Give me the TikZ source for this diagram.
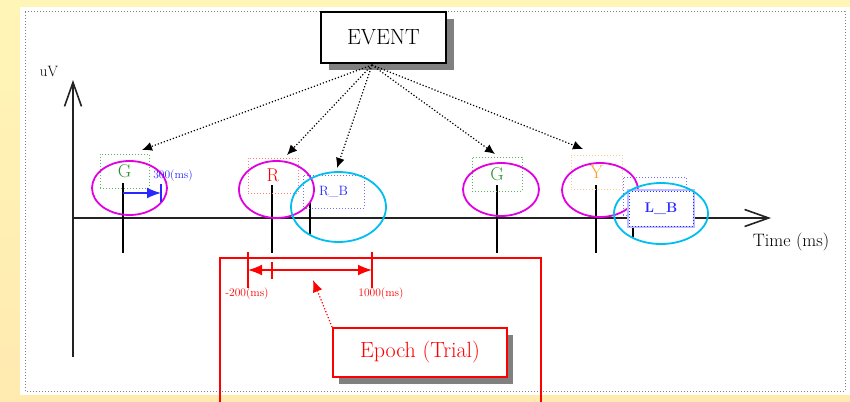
\documentclass[tikz,border=0pt]{standalone}
\usetikzlibrary{arrows.meta,shapes.geometric}
\newcommand\setfs[1]{\fontsize{#1}{#1}\selectfont}
\definecolor{bgtop}{RGB}{255,245,182}
\definecolor{bgbot}{RGB}{255,234,176}
\definecolor{evgreen}{RGB}{40,145,40}
\definecolor{boxgreen}{RGB}{90,180,90}
\definecolor{evred}{RGB}{255,0,0}
\definecolor{boxred}{RGB}{255,120,120}
\definecolor{evblue}{RGB}{40,40,255}
\definecolor{boxblue}{RGB}{110,110,255}
\definecolor{evorange}{RGB}{255,160,30}
\definecolor{boxorange}{RGB}{255,200,140}
\definecolor{ringmag}{RGB}{225,0,225}
\definecolor{ringcyan}{RGB}{0,190,240}
\definecolor{axisgray}{RGB}{35,35,35}
\definecolor{shadowgray}{RGB}{128,128,128}
\begin{document}
\begin{tikzpicture}[x=1pt,y=-1pt,
  axisline/.style={draw=axisgray,line width=2pt,-{Straight Barb[length=24pt,width=17pt,line width=1.6pt]}},
  markline/.style={draw=black,line width=1.6pt},
  tagbox/.style={draw=#1,line width=1pt,dash pattern=on 1pt off 2pt,inner sep=0pt,rectangle},
  ringm/.style={ellipse,draw=ringmag,line width=1.8pt,inner sep=0pt},
  ringc/.style={ellipse,draw=ringcyan,line width=1.8pt,inner sep=0pt},
  pointer/.style={draw=black,line width=1.2pt,dash pattern=on 1.2pt off 2pt,-{Latex[length=10pt,width=9pt]}},
  shadowbox/.style={fill=shadowgray,inner sep=0pt},
  redline/.style={draw=evred,line width=1.6pt},
  msfont/.style={font=\setfs{11.5}},
]
\useasboundingbox (0,0) rectangle (850,401);

% page background and white panel with its dotted frame
\shade[top color=bgtop,bottom color=bgbot] (0,0) rectangle (850,401);
\fill[white] (20,7) rectangle (850,395);
\draw[shadowgray,line width=1pt,dash pattern=on 1pt off 2pt] (25,12) rectangle (845,391);

% epoch frame (runs off the bottom edge)
\draw[redline] (220,405) -- (220,258) -- (541,258) -- (541,405);

% axes
\coordinate (yb) at (73,357);
\coordinate (yt) at (73,80);
\coordinate (o) at (73,218);
\coordinate (xe) at (771,218);
\draw[axisline] (yb) -- (yt);
\draw[axisline] (o) -- (xe);
\node[font=\setfs{15}] (uv) at (49,71) {uV};
\node[font=\setfs{18}] (tm) at (791,242) {Time (ms)};

% event markers
\draw[markline] (123,183) -- (123,253);
\draw[markline] (272,185) -- (272,253);
\draw[markline] (310,202) -- (310,235);
\draw[markline] (497,185) -- (497,253);
\draw[markline] (596,185) -- (596,253);
\draw[markline] (633,224) -- (633,237);

% event tags
\node[tagbox=boxgreen,minimum width=49pt,minimum height=34pt,text=evgreen,font=\setfs{18.5}] (g1) at (124.5,171) {G};
\node[tagbox=boxred,minimum width=50pt,minimum height=35pt,text=evred,font=\setfs{18.5}] (r) at (273,175.5) {R};
\node[tagbox=boxblue,minimum width=61pt,minimum height=33pt,text=evblue,font=\setfs{13.5}] (rb) at (333.5,191.5) {R\_B};
\node[tagbox=boxgreen,minimum width=50pt,minimum height=34pt,text=evgreen,font=\setfs{18.5}] (g2) at (497,174) {G};
\node[tagbox=boxorange,minimum width=51pt,minimum height=34pt,text=evorange,font=\setfs{18.5}] (y) at (596.5,172) {Y};
\node[tagbox=boxblue,minimum width=63pt,minimum height=38pt] (lbback) at (654.5,196) {};

% stimulus rings
\node[ringm,minimum width=75pt,minimum height=54pt] (mg1) at (129.5,188) {};
\node[ringm,minimum width=75pt,minimum height=57pt] (mr) at (276.5,189.5) {};
\node[ringm,minimum width=76pt,minimum height=53pt] (mg2) at (501,189.5) {};
\node[ringm,minimum width=76pt,minimum height=54pt] (my) at (600,190) {};

% response tag L_B sits above the axis
\node[draw=boxblue!45,line width=1.6pt,fill=white,minimum width=66pt,minimum height=37pt,inner sep=0pt] (lbs) at (661,208.5) {};
\node[tagbox=evblue,minimum width=64pt,minimum height=35pt,text=evblue,font=\bfseries\setfs{14}] (lb) at (661,208.5) {L\_B};

% response rings
\node[ringc,minimum width=95pt,minimum height=70pt] (crb) at (338.5,207) {};
\node[ringc,minimum width=94pt,minimum height=61pt] (clb) at (661,213.5) {};

% 300 ms delay marker
\coordinate (d0) at (123,193);
\coordinate (d1) at (161,193);
\coordinate (d1t) at (161,184);
\coordinate (d1b) at (161,202);
\draw[evblue,line width=1.6pt,-{Latex[length=14pt,width=11pt]}] (d0) -- (d1);
\draw[evblue,line width=1.6pt] (d1t) -- (d1b);
\node[text=evblue,msfont,inner sep=0pt] (d300) at (173,176) {300(ms)};

% EVENT box and its pointers
\node[shadowbox,minimum width=125pt,minimum height=51pt] (evsh) at (391.5,44.5) {};
\node[draw=black,line width=1.8pt,fill=white,minimum width=125pt,minimum height=51pt,inner sep=0pt,font=\setfs{22}] (ev) at (383.5,37.5) {EVENT};
\coordinate (hub) at (372,65);
\coordinate (pg1) at (142,150);
\coordinate (pr) at (287,155);
\coordinate (prb) at (337,168);
\coordinate (pg2) at (495,154);
\coordinate (py) at (583,149);
\draw[pointer] (hub) -- (pg1);
\draw[pointer] (hub) -- (pr);
\draw[pointer] (hub) -- (prb);
\draw[pointer] (hub) -- (pg2);
\draw[pointer] (hub) -- (py);

% epoch window -200 .. 1000 ms
\coordinate (ea) at (248,252);
\coordinate (eab) at (248,288);
\coordinate (eb) at (372,252);
\coordinate (ebb) at (372,288);
\coordinate (ez) at (272,262);
\coordinate (ezb) at (272,279);
\coordinate (l0) at (248,270);
\coordinate (l1) at (372,270);
\draw[redline] (ea) -- (eab);
\draw[redline] (eb) -- (ebb);
\draw[redline] (ez) -- (ezb);
\draw[redline,{Latex[length=14pt,width=11pt]}-{Latex[length=14pt,width=11pt]}] (l0) -- (l1);
\node[text=evred,msfont] (m200) at (247,294) {-200(ms)};
\node[text=evred,msfont] (m1000) at (381,294) {1000(ms)};

% Epoch (Trial) label
\node[shadowbox,minimum width=174pt,minimum height=49pt] (epsh) at (426,359.5) {};
\node[draw=evred,line width=1.8pt,fill=white,minimum width=174pt,minimum height=49pt,inner sep=0pt,text=evred,font=\setfs{22}] (ep) at (420,352.5) {Epoch (Trial)};
\coordinate (ept) at (313,280);
\draw[evred,line width=1.2pt,dash pattern=on 1.2pt off 2pt,-{Latex[length=12pt,width=10pt]}] (ep.north west) -- (ept);
\end{tikzpicture}
\end{document}
